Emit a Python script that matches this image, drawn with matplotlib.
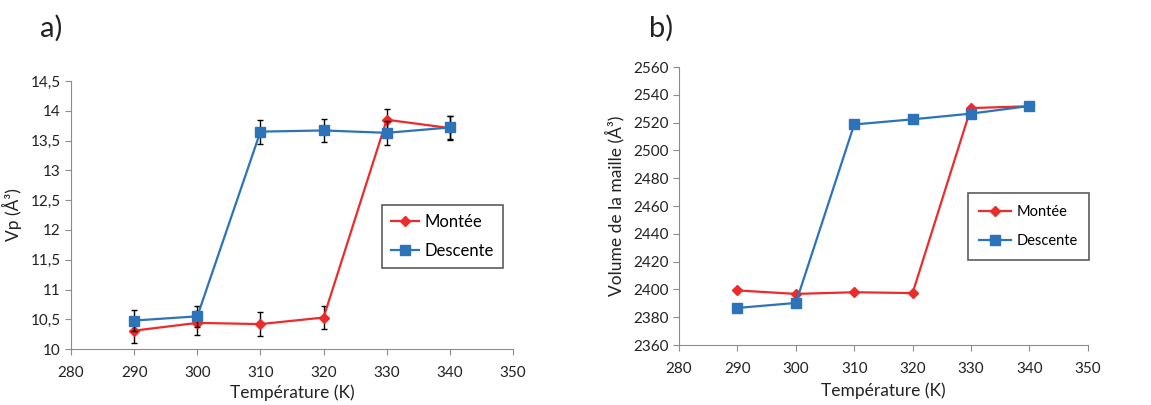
import matplotlib.pyplot as plt
from matplotlib.ticker import FuncFormatter, MultipleLocator

plt.rcParams['font.family'] = ['Lato', 'DejaVu Sans']

temps = [290, 300, 310, 320, 330, 340]

# panel a : Vp
vp_montee = [10.31, 10.44, 10.42, 10.53, 13.85, 13.71]
vp_descente = [10.48, 10.55, 13.65, 13.67, 13.63, 13.72]
vp_err_montee = [0.2, 0.2, 0.2, 0.2, 0.18, 0.2]
vp_err_descente = [0.18, 0.18, 0.2, 0.2, 0.2, 0.2]

# panel b : volume de la maille
vol_montee = [2399.3, 2396.8, 2398.0, 2397.4, 2530.5, 2531.8]
vol_descente = [2386.7, 2390.3, 2518.7, 2522.4, 2526.5, 2532.0]

red = '#ec2b2b'
blue = '#2c73ba'
grey = '#8c8c8c'
txt = '#222222'

fig = plt.figure(figsize=(11.51, 4.05), dpi=100)
ax1 = fig.add_axes([0.0617, 0.138, 0.384, 0.662])
ax2 = fig.add_axes([0.590, 0.148, 0.355, 0.6864])


def style(ax, lpad):
    for s in ['top', 'right']:
        ax.spines[s].set_visible(False)
    for s in ['left', 'bottom']:
        ax.spines[s].set_color(grey)
    ax.tick_params(colors=grey, labelcolor=txt, labelsize=11, length=4)
    ax.tick_params(axis='x', pad=8)
    ax.set_xlim(280, 350)
    ax.xaxis.set_major_locator(MultipleLocator(10))
    ax.set_xlabel('Température (K)', fontsize=12.5, color=txt, labelpad=lpad)


comma = FuncFormatter(lambda v, p: ('%g' % v).replace('.', ','))

# a)
ax1.errorbar(temps, vp_montee, yerr=vp_err_montee, color=red, marker='D', ms=5.5,
             lw=1.6, ecolor='black', elinewidth=1, capsize=2.5, label='Montée', zorder=3)
ax1.errorbar(temps, vp_descente, yerr=vp_err_descente, color=blue, marker='s', ms=7,
             lw=1.6, ecolor='black', elinewidth=1, capsize=2.5, label='Descente', zorder=4)
style(ax1, 3)
ax1.set_ylim(10, 14.5)
ax1.yaxis.set_major_locator(MultipleLocator(0.5))
ax1.yaxis.set_major_formatter(comma)
ax1.set_ylabel('Vp (Å³)', fontsize=12.5, color=txt, labelpad=6)
h, l = ax1.get_legend_handles_labels()
h = [x[0] for x in h]
leg = ax1.legend(h, l, loc='upper left', bbox_to_anchor=(0.703, 0.537), fontsize=12,
                 frameon=True, fancybox=False, edgecolor='#333333', handlelength=1.7,
                 handletextpad=0.3, borderpad=0.55, labelspacing=0.75, borderaxespad=0)
leg.get_frame().set_linewidth(1.2)

# b)
ax2.plot(temps, vol_montee, color=red, marker='D', ms=5.5, lw=1.6, label='Montée')
ax2.plot(temps, vol_descente, color=blue, marker='s', ms=7, lw=1.6, label='Descente')
style(ax2, 5)
ax2.set_ylim(2360, 2560)
ax2.yaxis.set_major_locator(MultipleLocator(20))
ax2.set_ylabel('Volume de la maille (Å³)', fontsize=12.5, color=txt, labelpad=6)
leg2 = ax2.legend(loc='upper left', bbox_to_anchor=(0.706, 0.547), fontsize=10.5,
                  frameon=True, fancybox=False, edgecolor='#333333', handlelength=2.2,
                  handletextpad=0.35, borderpad=0.8, labelspacing=1.05, borderaxespad=0)
leg2.get_frame().set_linewidth(1.2)

fig.text(0.035, 0.93, 'a)', fontsize=21, va='center', color=txt)
fig.text(0.564, 0.93, 'b)', fontsize=21, va='center', color=txt)

fig.savefig('out.png', dpi=100)
